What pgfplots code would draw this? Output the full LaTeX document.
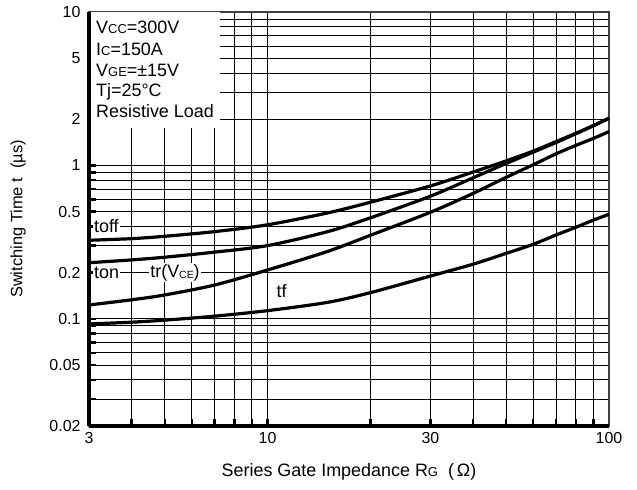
\documentclass[border=0pt]{standalone}
\usepackage{pgfplots}
\pgfplotsset{compat=1.18}
\usepackage{fontspec}
\setmainfont{Liberation Sans}
\newcommand{\sm}[1]{{\fontsize{13}{13}\selectfont #1}}
\newcommand{\tn}[1]{{\fontsize{10.5}{11}\selectfont #1}}

% switching time vs gate resistance, us
\pgfplotstableread{
rg    toff   ton    tr     tf
3     0.325  0.232  0.123  0.0925
4     0.333  0.242  0.133  0.095
5     0.345  0.252  0.143  0.098
7     0.370  0.272  0.166  0.104
10    0.410  0.300  0.208  0.113
15    0.490  0.370  0.275  0.128
20    0.575  0.455  0.350  0.148
30    0.735  0.630  0.495  0.190
40    0.905  0.830  0.657  0.227
50    1.070  1.030  0.836  0.267
60    1.240  1.220  1.010  0.306
70    1.430  1.410  1.190  0.352
80    1.620  1.610  1.350  0.395
90    1.820  1.810  1.500  0.440
100   2.030  2.030  1.660  0.480
}\swtime

\begin{document}
\begin{tikzpicture}
\path[use as bounding box] (-89bp,-64bp) rectangle (548bp,426bp);
\begin{axis}[
  scale only axis,
  width=520bp, height=414bp,
  xmode=log, ymode=log,
  xmin=3, xmax=100, ymin=0.02, ymax=10,
  xtick={3,10,30,100},
  xticklabels={3,10,30,100},
  minor xtick={4,5,6,7,8,9,20,40,50,60,70,80,90},
  ytick={0.02,0.05,0.1,0.2,0.5,1,2,5,10},
  yticklabels={0.02,0.05,0.1,0.2,0.5,1,2,5,10},
  minor ytick={0.03,0.04,0.06,0.07,0.08,0.09,0.3,0.4,0.6,0.7,0.8,0.9,3,4,6,7,8,9},
  grid=both,
  major grid style={black, line width=0.9bp},
  minor grid style={black, line width=0.9bp},
  tick pos=left,
  tick align=inside,
  major tick length=7bp, minor tick length=7bp,
  tick style={black, line width=2.4bp},
  axis line style={black!75, line width=1.2bp},
  tick label style={font=\fontsize{16}{17}\selectfont},
  xticklabel style={yshift=-3bp},
  yticklabel style={xshift=-5bp},
  xlabel={Series Gate Impedance R\sm{G}\ \ (\,Ω)},
  ylabel={Switching Time t\ \ (µs)},
  xlabel style={font=\fontsize{18}{19}\selectfont, at={(rel axis cs:0.5,0)}, anchor=center, yshift=-46bp},
  ylabel style={font=\fontsize{16.5}{17}\selectfont, at={(rel axis cs:0,0.5)}, anchor=center, yshift=71bp},
  clip=false,
  after end axis/.code={
    \draw[black, line width=4bp] (rel axis cs:0,0) -- (rel axis cs:0,1);
    \draw[black, line width=3.5bp] (rel axis cs:0,0) -- (rel axis cs:1,0);
  },
]
\addplot[black, line width=3.2bp, smooth, no marks] table[x=rg, y=toff] {\swtime};
\addplot[black, line width=3.2bp, smooth, no marks] table[x=rg, y=ton] {\swtime};
\addplot[black, line width=3.2bp, smooth, no marks] table[x=rg, y=tr] {\swtime};
\addplot[black, line width=3.2bp, smooth, no marks] table[x=rg, y=tf] {\swtime};

% condition box
\fill[white] (rel axis cs:0,0.720) rectangle (rel axis cs:0.252,1);
\begin{scope}[every node/.style={anchor=base west, inner sep=0pt, font=\fontsize{18}{19}\selectfont}]
\node at (rel axis cs:0.0135,0.9485) {V\sm{CC}=300V};
\node at (rel axis cs:0.0135,0.8961) {I\sm{C}=150A};
\node at (rel axis cs:0.0135,0.8454) {V\sm{GE}=±15V};
\node at (rel axis cs:0.0135,0.7954) {Tj=25°C};
\node at (rel axis cs:0.0135,0.7457) {Resistive Load};
\end{scope}

% curve labels
\begin{scope}[every node/.style={fill=white, inner sep=1bp, font=\fontsize{18}{19}\selectfont}]
\node[anchor=west] at (axis cs:3.08,0.4) {toff};
\node[anchor=west] at (axis cs:3.08,0.2) {ton};
\node[anchor=west] at (axis cs:4.5,0.2) {tr(V\raisebox{-1.5bp}{\tn{CE}})};
\node[fill=none] at (axis cs:11.0,0.152) {tf};
\end{scope}
\end{axis}
\end{tikzpicture}
\end{document}
